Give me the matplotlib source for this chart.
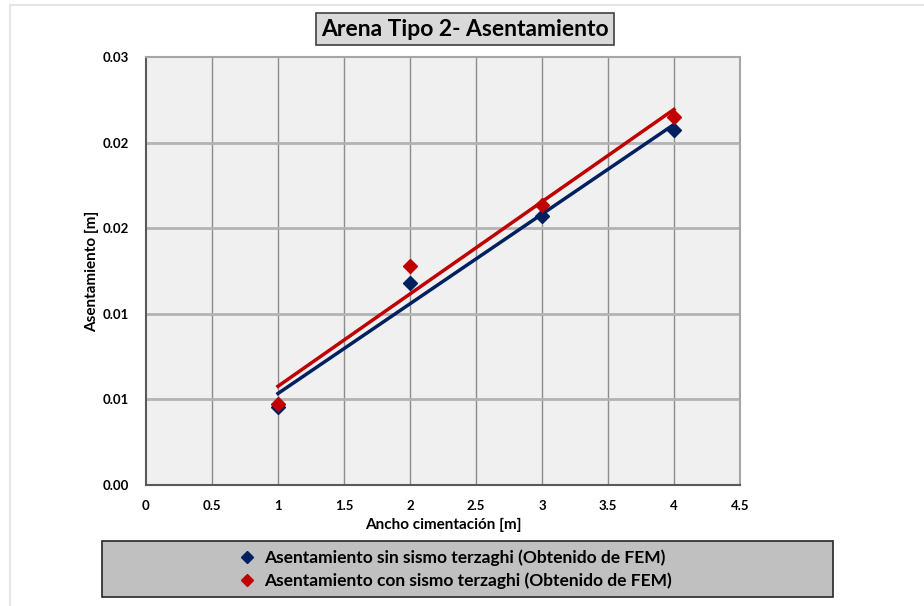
import numpy as np
import matplotlib.pyplot as plt
from matplotlib.patches import Rectangle
from matplotlib.lines import Line2D

plt.rcParams["font.family"] = ["Lato", "DejaVu Sans"]
plt.rcParams["font.weight"] = "bold"

# data
ancho = [1, 2, 3, 4]
sin_sismo = [0.0055, 0.01414, 0.01886, 0.02488]
con_sismo = [0.00568, 0.01537, 0.01963, 0.02582]

x_ticks = [0, 0.5, 1, 1.5, 2, 2.5, 3, 3.5, 4, 4.5]
x_tick_labels = ["0", "0.5", "1", "1.5", "2", "2.5", "3", "3.5", "4", "4.5"]
y_ticks = [0, 0.006, 0.012, 0.018, 0.024, 0.03]
y_tick_labels = ["0.00", "0.01", "0.01", "0.02", "0.02", "0.03"]

series_names = [
    "Asentamiento sin sismo terzaghi (Obtenido de FEM)",
    "Asentamiento con sismo terzaghi (Obtenido de FEM)",
]
colors = ["#002060", "#c00000"]

fig = plt.figure(figsize=(9.24, 6.06), dpi=100)

# light page frame
fig.add_artist(Rectangle((10 / 924, -0.1), 1.2, (1 - 5 / 606) + 0.1,
                         transform=fig.transFigure, fill=False,
                         edgecolor="#e6e6e6", linewidth=1.5))

ax = fig.add_axes([146 / 924, 1 - 485 / 606, (740 - 146) / 924, (485 - 57) / 606])
ax.set_facecolor("#f0f0f0")
ax.set_xlim(0, 4.5)
ax.set_ylim(0, 0.03)
ax.set_xticks(x_ticks)
ax.set_xticklabels(x_tick_labels)
ax.set_yticks(y_ticks)
ax.set_yticklabels(y_tick_labels)
ax.tick_params(length=0, labelsize=9.5, pad=11)
ax.tick_params(axis="y", pad=12)

for xv in x_ticks[1:-1]:
    ax.axvline(xv, color="#8c8c8c", linewidth=1.0, zorder=1)
for yv in y_ticks[1:-1]:
    ax.axhline(yv, color="#b3b3b3", linewidth=2.0, zorder=1)

for side in ["left", "bottom"]:
    ax.spines[side].set_color("#595959")
    ax.spines[side].set_linewidth(1.5)
for side in ["top", "right"]:
    ax.spines[side].set_color("#a6a6a6")
    ax.spines[side].set_linewidth(1.5)

x_arr = np.array(ancho, dtype=float)
for vals, c in zip([sin_sismo, con_sismo], colors):
    m, b = np.polyfit(x_arr, vals, 1)
    xs = np.array([x_arr.min(), x_arr.max()])
    ax.plot(xs, m * xs + b, color=c, linewidth=2.5, zorder=3)
for vals, c in zip([sin_sismo, con_sismo], colors):
    ax.plot(ancho, vals, linestyle="none", marker="D", markersize=7,
            color=c, zorder=4)

ax.set_xlabel("Ancho cimentación [m]", fontsize=11, fontweight="bold", labelpad=4)
ax.set_ylabel("Asentamiento [m]", fontsize=11, fontweight="bold", labelpad=3)

fig.text(465 / 924, 1 - 29 / 606, "Arena Tipo 2- Asentamiento", ha="center",
         va="center", fontsize=16.5, fontweight="bold",
         bbox=dict(boxstyle="square,pad=0.22", facecolor="#d9d9d9",
                   edgecolor="#404040", linewidth=1.2))

# legend box
fig.add_artist(Rectangle((102 / 924, 1 - 597 / 606), (833 - 102) / 924, 56 / 606,
                         transform=fig.transFigure, facecolor="#c0c0c0",
                         edgecolor="#262626", linewidth=1.2))
handles = [Line2D([], [], linestyle="none", marker="D", markersize=6, color=c)
           for c in colors]
fig.legend(handles, series_names, loc="center",
           bbox_to_anchor=(455 / 924, 1 - 569 / 606), frameon=False,
           handlelength=1.0, handletextpad=0.5, labelspacing=0.35,
           prop={"weight": "bold", "size": 12.5})

fig.savefig("out.png", dpi=100)
